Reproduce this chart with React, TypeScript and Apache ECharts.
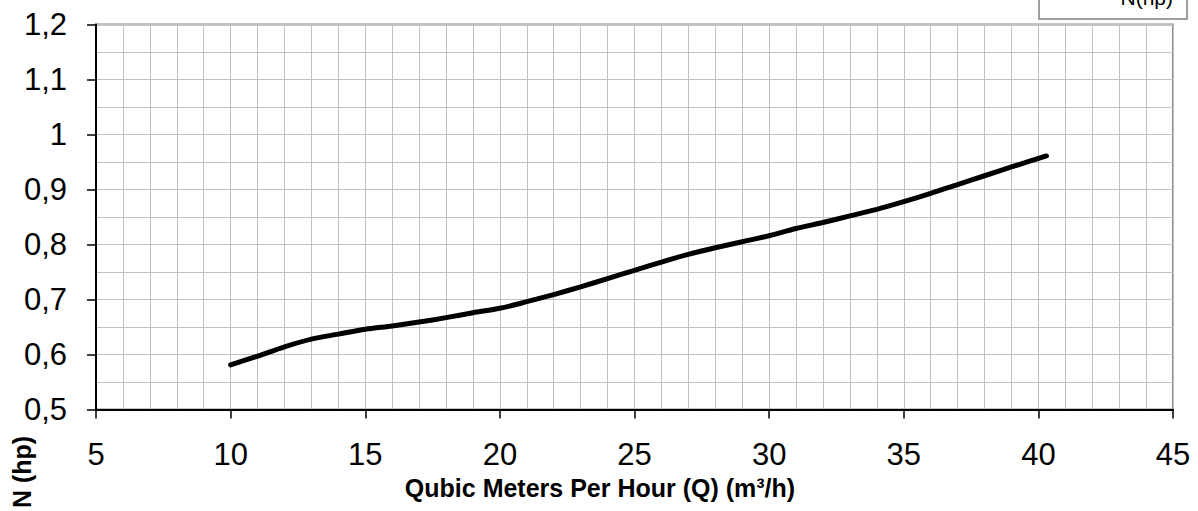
import React, { useEffect, useRef } from "react";
import * as echarts from "echarts";

const flowQ = [10, 11, 12, 13, 14, 15, 16, 17, 18, 19, 20, 21, 22, 23, 24, 25, 26, 27, 28, 29, 30, 31, 32, 33, 34, 35, 36, 37, 38, 39, 40.3];
const powerN = [0.581, 0.597, 0.614, 0.628, 0.637, 0.646, 0.652, 0.659, 0.667, 0.676, 0.684, 0.696, 0.709, 0.723, 0.738, 0.753, 0.768, 0.782, 0.794, 0.805, 0.816, 0.829, 0.840, 0.852, 0.864, 0.878, 0.893, 0.909, 0.925, 0.941, 0.961];

const xTitle = "Qubic Meters Per Hour (Q) (m³/h)";
const yTitle = "N (hp)";
const legendLabel = "N(hp)";

const FONT = "'Liberation Sans', Arial, Helvetica, sans-serif";

export default function App() {
  const ref = useRef<HTMLDivElement>(null);
  useEffect(() => {
    if (!ref.current) return;
    const chart = echarts.init(ref.current, undefined, { renderer: "svg" });
    const data = flowQ.map((q, i) => [q, powerN[i]]);
    chart.setOption({
      animation: false,
      backgroundColor: "#ffffff",
      grid: {
        left: 96,
        right: 25,
        top: 24.5,
        bottom: 101.5,
        show: true,
        borderColor: "#8c8c8c",
        borderWidth: 2,
        containLabel: false,
      },
      xAxis: {
        type: "value",
        min: 5,
        max: 45,
        interval: 5,
        axisLine: { show: true, onZero: false, lineStyle: { color: "#000", width: 2 } },
        axisTick: { show: true, length: 9, inside: false, lineStyle: { color: "#000", width: 1.5 } },
        axisLabel: { fontSize: 31, color: "#000", margin: 29, fontFamily: FONT },
        splitLine: { show: true, lineStyle: { color: "#c0c0c0", width: 1 } },
        minorTick: { show: false, splitNumber: 5 },
        minorSplitLine: { show: true, lineStyle: { color: "#c0c0c0", width: 1 } },
      },
      yAxis: {
        type: "value",
        min: 0.5,
        max: 1.2,
        interval: 0.1,
        axisLine: { show: true, onZero: false, lineStyle: { color: "#000", width: 2 } },
        axisTick: { show: true, length: 9, inside: false, lineStyle: { color: "#000", width: 1.5 } },
        axisLabel: {
          fontSize: 31,
          color: "#000",
          margin: 29,
          fontFamily: FONT,
          formatter: (v: number) => String(Math.round(v * 10) / 10).replace(".", ","),
        },
        splitLine: { show: true, lineStyle: { color: "#c0c0c0", width: 1 } },
        minorTick: { show: false, splitNumber: 2 },
        minorSplitLine: { show: true, lineStyle: { color: "#c0c0c0", width: 1 } },
      },
      series: [
        {
          type: "line",
          name: legendLabel,
          data,
          smooth: 0.3,
          symbol: "none",
          lineStyle: { color: "#000", width: 5, cap: "round", join: "round" },
          z: 5,
        },
      ],
      graphic: [
        {
          type: "text",
          x: 600,
          y: 488,
          style: {
            text: xTitle,
            align: "center",
            verticalAlign: "middle",
            font: `bold 25px ${FONT}`,
            fill: "#000",
          },
        },
        {
          type: "text",
          x: 22,
          y: 472,
          rotation: Math.PI / 2,
          style: {
            text: yTitle,
            align: "center",
            verticalAlign: "middle",
            font: `bold 25px ${FONT}`,
            fill: "#000",
          },
        },
        {
          type: "rect",
          shape: { x: 1039, y: -20, width: 148, height: 39 },
          style: { fill: "#fff", stroke: "#808080", lineWidth: 1.5 },
        },
        {
          type: "text",
          x: 1173,
          y: 8,
          style: {
            text: legendLabel,
            align: "right",
            verticalAlign: "bottom",
            font: `21px ${FONT}`,
            fill: "#000",
          },
        },
      ],
    });
    return () => chart.dispose();
  }, []);
  return (
    <div
      ref={ref}
      style={{ position: "absolute", left: 0, top: 0, width: 1198, height: 511 }}
    />
  );
}
